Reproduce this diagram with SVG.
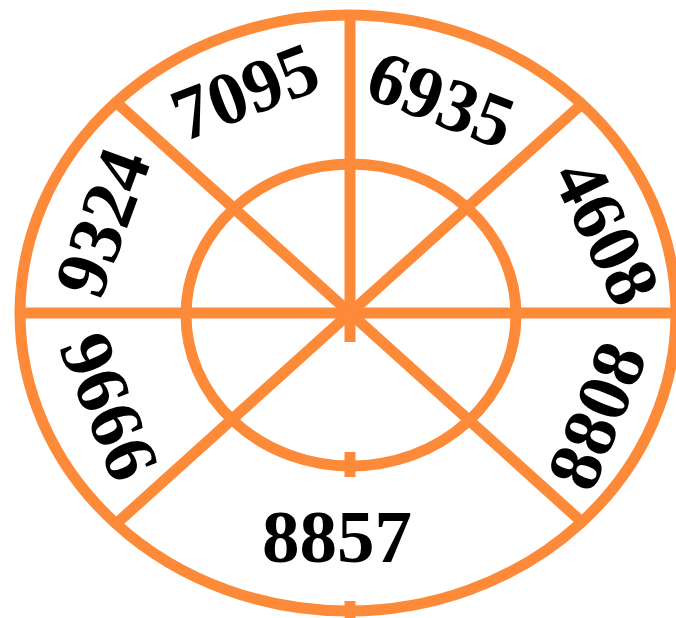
<svg xmlns="http://www.w3.org/2000/svg" width="676" height="618" viewBox="0 0 676 618">
<style>
.o{fill:none;stroke:#FD8A38;stroke-width:11}
.t{font-family:"Liberation Serif","Times New Roman",serif;font-weight:bold;font-size:75px;fill:#000;text-anchor:middle}
</style>
<rect width="676" height="618" fill="#fff"/>
<g id="rings">
<ellipse class="o" cx="348" cy="313" rx="328" ry="298"/>
<ellipse class="o" cx="351" cy="315" rx="165" ry="151"/>
</g>
<g id="connectors">
<line class="o" x1="20" y1="313" x2="676" y2="313"/>
<line class="o" x1="350" y1="15" x2="350" y2="342"/>
<line class="o" x1="117" y1="103" x2="583" y2="523"/>
<line class="o" x1="583" y1="103" x2="117" y2="523"/>
<line class="o" x1="350" y1="452" x2="350" y2="477"/>
<line class="o" x1="350" y1="601" x2="350" y2="618"/>
</g>
<g id="n7095"><text class="t" transform="translate(254,115) rotate(-21)">7095</text></g>
<g id="n6935"><text class="t" transform="translate(432,123) rotate(21)">6935</text></g>
<g id="n9324"><text class="t" transform="translate(126,231) rotate(-70)">9324</text></g>
<g id="n4608"><text class="t" transform="translate(584,243) rotate(64)">4608</text></g>
<g id="n9666"><text class="t" transform="translate(86,416) rotate(68)">9666</text></g>
<g id="n8808"><text class="t" transform="translate(620,425) rotate(-68)">8808</text></g>
<g id="n8857"><text class="t" x="337" y="562">8857</text></g>
</svg>
